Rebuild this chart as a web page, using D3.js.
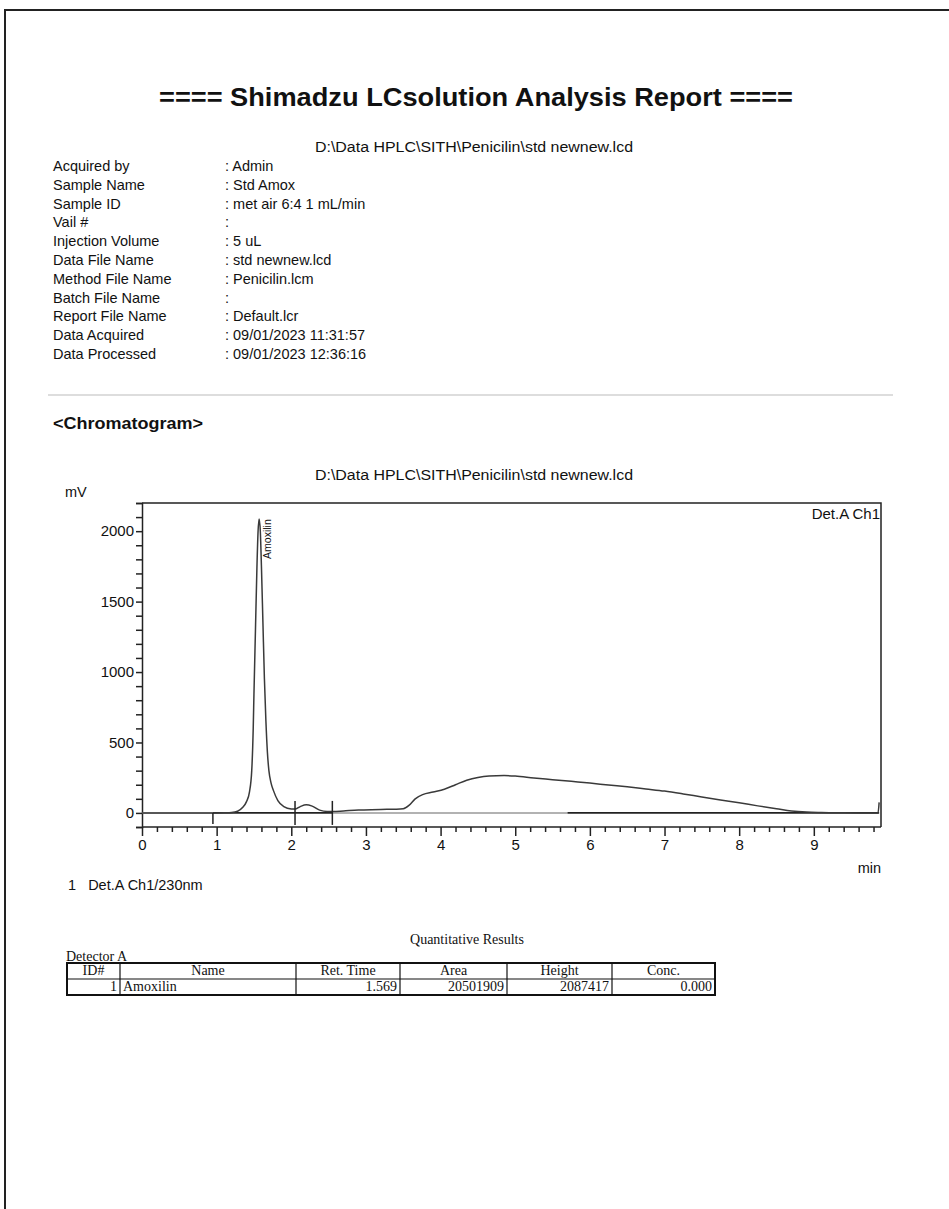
<!DOCTYPE html>
<html>
<head>
<meta charset="utf-8">
<script src="https://cdn.jsdelivr.net/npm/d3@7"></script>
<style>
  body { margin: 0; background: #fff; }
  svg text { font-family: "Liberation Sans", Arial, sans-serif; fill: #111; }
  svg text.serif { font-family: "Liberation Serif", "Times New Roman", serif; }
</style>
</head>
<body>
<div id="page"></div>
<script>
// header block
const reportTitle = "==== Shimadzu LCsolution Analysis Report ====";
const filePath = "D:\\Data HPLC\\SITH\\Penicilin\\std newnew.lcd";
const metaLabels = ["Acquired by", "Sample Name", "Sample ID", "Vail #", "Injection Volume",
    "Data File Name", "Method File Name", "Batch File Name", "Report File Name",
    "Data Acquired", "Data Processed"];
const metaValues = [": Admin", ": Std Amox", ": met air 6:4 1 mL/min", ":", ": 5 uL",
    ": std newnew.lcd", ": Penicilin.lcm", ":", ": Default.lcr",
    ": 09/01/2023 11:31:57", ": 09/01/2023 12:36:16"];

// chromatogram (min, mV)
const times = [0, 0.5, 0.9, 1.0, 1.1, 1.2, 1.28, 1.35, 1.40, 1.44, 1.47, 1.49, 1.50, 1.52, 1.54,
    1.555, 1.569, 1.585, 1.60, 1.62, 1.64, 1.66, 1.68, 1.70, 1.73, 1.76, 1.82, 1.9, 2.0, 2.05,
    2.12, 2.2, 2.28, 2.38, 2.48, 2.56, 2.7, 2.9, 3.2, 3.5, 3.58, 3.66, 3.76, 3.9, 4.05, 4.2,
    4.35, 4.5, 4.65, 4.85, 5.0, 5.25, 5.5, 5.75, 6.0, 6.25, 6.5, 6.75, 7.0, 7.25, 7.5, 7.75,
    8.0, 8.25, 8.5, 8.7, 8.9, 9.1, 9.4, 9.7, 9.86, 9.875];
const signal = [0, 0, 0, 0, 1, 3, 12, 40, 80, 150, 300, 600, 850, 1300, 1750,
    2000, 2087, 2000, 1750, 1350, 950, 650, 430, 300, 210, 160, 88, 45, 28, 27,
    45, 58, 48, 20, 10, 10, 14, 20, 24, 30, 55, 100, 130, 148, 168, 200,
    232, 252, 262, 265, 262, 248, 236, 224, 212, 198, 185, 170, 155, 135, 113, 92,
    72, 50, 30, 14, 6, 3, 1, 0, 0, 75];

// integration baseline pieces and peak marks
const baseGray = [[0, 0.95], [2.55, 5.7]];
const baseDark = [[0.95, 2.55], [5.7, 9.875]];
const startMark = 0.95;
const crossMarks = [2.05, 2.55];

const peakName = "Amoxilin";
const peakTime = 1.569;
const peakHeight = 2087;

const xTicksMinor = d3.range(0, 50).map(i => +(i * 0.2).toFixed(1));
const yTicksMajor = [0, 500, 1000, 1500, 2000];
const yTicksMinor = d3.range(-100, 2201, 100);

// quantitative results table
const tableHeaders = ["ID#", "Name", "Ret. Time", "Area", "Height", "Conc."];
const tableRow = ["1", "Amoxilin", "1.569", "20501909", "2087417", "0.000"];

const width = 949;
const height = 1209;

const svg = d3.select("#page")
    .append("svg")
    .attr("width", width)
    .attr("height", height);

svg.append("rect").attr("width", width).attr("height", height).attr("fill", "#fff");

// page border
svg.append("rect")
    .attr("x", 5).attr("y", 10)
    .attr("width", 960).attr("height", 1220)
    .attr("fill", "none")
    .attr("stroke", "#222")
    .attr("stroke-width", 2);

svg.append("text")
    .attr("x", 476).attr("y", 106)
    .attr("text-anchor", "middle")
    .attr("font-size", 25)
    .attr("font-weight", "bold")
    .attr("textLength", 634)
    .attr("lengthAdjust", "spacingAndGlyphs")
    .text(reportTitle);

svg.append("text")
    .attr("x", 474).attr("y", 152)
    .attr("text-anchor", "middle")
    .attr("font-size", 14)
    .attr("textLength", 318)
    .attr("lengthAdjust", "spacingAndGlyphs")
    .text(filePath);

const meta = svg.append("g").attr("font-size", 14.5);
meta.selectAll("text.lab")
    .data(metaLabels)
    .enter()
    .append("text")
    .attr("class", "lab")
    .attr("x", 53)
    .attr("y", (d, i) => 171 + i * 18.8)
    .text(d => d);
meta.selectAll("text.val")
    .data(metaValues)
    .enter()
    .append("text")
    .attr("class", "val")
    .attr("x", 225)
    .attr("y", (d, i) => 171 + i * 18.8)
    .text(d => d);

svg.append("line")
    .attr("x1", 48).attr("x2", 893)
    .attr("y1", 395).attr("y2", 395)
    .attr("stroke", "#ddd")
    .attr("stroke-width", 2);

svg.append("text")
    .attr("x", 53).attr("y", 429)
    .attr("font-size", 16.5)
    .attr("font-weight", "bold")
    .attr("textLength", 150)
    .attr("lengthAdjust", "spacingAndGlyphs")
    .text("<Chromatogram>");

// ---- chromatogram plot ----
const x = d3.scaleLinear().domain([0, 9.9]).range([142, 881]);
const y = d3.scaleLinear().domain([-100, 2200]).range([827, 503]);

svg.append("text")
    .attr("x", 474).attr("y", 480)
    .attr("text-anchor", "middle")
    .attr("font-size", 14)
    .attr("textLength", 318)
    .attr("lengthAdjust", "spacingAndGlyphs")
    .text(filePath);

svg.append("text")
    .attr("x", 65).attr("y", 497)
    .attr("font-size", 14.5)
    .text("mV");

// frame top and right
svg.append("path")
    .attr("d", `M${x(0)},${y(2200)}H${x(9.9)}V${y(-100)}`)
    .attr("fill", "none")
    .attr("stroke", "#222")
    .attr("stroke-width", 1.5);

const yAxis = svg.append("g")
    .attr("transform", `translate(${x(0)},0)`)
    .call(d3.axisLeft(y).tickValues(yTicksMinor).tickSize(6)
        .tickFormat(d => yTicksMajor.includes(d) ? d : ""));
yAxis.select(".domain").attr("stroke", "#222").attr("stroke-width", 1.5);
yAxis.selectAll(".tick line").attr("stroke", "#222").attr("stroke-width", 1.5);
yAxis.selectAll(".tick text")
    .attr("font-size", 15)
    .attr("fill", "#222")
    .attr("x", -8);

const xAxis = svg.append("g")
    .attr("transform", `translate(0,${y(-100)})`)
    .call(d3.axisBottom(x).tickValues(xTicksMinor).tickSizeOuter(0)
        .tickSize(5).tickFormat(d => Number.isInteger(d) ? d : ""));
xAxis.select(".domain").attr("stroke", "#222").attr("stroke-width", 1.5)
    .attr("d", `M${x(0)},0H${x(9.9)}`);
xAxis.selectAll(".tick line")
    .attr("stroke", "#222")
    .attr("stroke-width", 1.5)
    .attr("y2", d => Number.isInteger(d) ? 9 : 5);
xAxis.selectAll(".tick text")
    .attr("font-size", 15)
    .attr("fill", "#222")
    .attr("y", 12);

svg.append("text")
    .attr("x", 881).attr("y", 873)
    .attr("text-anchor", "end")
    .attr("font-size", 14.5)
    .text("min");

svg.append("text")
    .attr("x", 880).attr("y", 519)
    .attr("text-anchor", "end")
    .attr("font-size", 15)
    .text("Det.A Ch1");

// baselines
svg.selectAll("line.bgray")
    .data(baseGray)
    .enter()
    .append("line")
    .attr("x1", d => x(d[0])).attr("x2", d => x(d[1]))
    .attr("y1", y(0)).attr("y2", y(0))
    .attr("stroke", "#999")
    .attr("stroke-width", 1.5);
svg.selectAll("line.bdark")
    .data(baseDark)
    .enter()
    .append("line")
    .attr("x1", d => x(d[0])).attr("x2", d => x(d[1]))
    .attr("y1", y(0)).attr("y2", y(0))
    .attr("stroke", "#222")
    .attr("stroke-width", 1.8);

const line = d3.line()
    .x((d, i) => x(times[i]))
    .y(d => y(d))
    .curve(d3.curveMonotoneX);

svg.append("path")
    .datum(signal)
    .attr("d", line)
    .attr("fill", "none")
    .attr("stroke", "#3a3a3a")
    .attr("stroke-width", 1.5);

// peak start mark and cross marks
svg.append("line")
    .attr("x1", x(startMark)).attr("x2", x(startMark))
    .attr("y1", y(0)).attr("y2", y(0) + 11)
    .attr("stroke", "#222").attr("stroke-width", 1.5);
svg.selectAll("line.cross")
    .data(crossMarks)
    .enter()
    .append("line")
    .attr("x1", d => x(d)).attr("x2", d => x(d))
    .attr("y1", y(0) - 12).attr("y2", y(0) + 12)
    .attr("stroke", "#222").attr("stroke-width", 1.5);

svg.append("text")
    .attr("transform", `translate(${x(peakTime) + 12},${y(peakHeight) + 40}) rotate(-90)`)
    .attr("font-size", 10.5)
    .attr("fill", "#333")
    .text(peakName);

svg.append("text")
    .attr("x", 68).attr("y", 890)
    .attr("font-size", 14.5)
    .attr("xml:space", "preserve")
    .text("1   Det.A Ch1/230nm");

// ---- table ----
svg.append("text")
    .attr("class", "serif")
    .attr("x", 467).attr("y", 944)
    .attr("text-anchor", "middle")
    .attr("font-size", 14)
    .text("Quantitative Results");
svg.append("text")
    .attr("class", "serif")
    .attr("x", 66).attr("y", 961)
    .attr("font-size", 14)
    .text("Detector A");

const colEdges = [67, 120, 296, 400, 507, 612, 715];
const rowTop = 963, rowH = 16;
const tbl = svg.append("g");
tbl.append("rect")
    .attr("x", colEdges[0]).attr("y", rowTop)
    .attr("width", colEdges[6] - colEdges[0]).attr("height", rowH * 2)
    .attr("fill", "none").attr("stroke", "#111").attr("stroke-width", 2);
tbl.append("line")
    .attr("x1", colEdges[0]).attr("x2", colEdges[6])
    .attr("y1", rowTop + rowH).attr("y2", rowTop + rowH)
    .attr("stroke", "#111").attr("stroke-width", 1.2);
tbl.selectAll("line.col")
    .data(colEdges.slice(1, 6))
    .enter()
    .append("line")
    .attr("x1", d => d).attr("x2", d => d)
    .attr("y1", rowTop).attr("y2", rowTop + rowH * 2)
    .attr("stroke", "#111").attr("stroke-width", 1.2);
tbl.selectAll("text.head")
    .data(tableHeaders)
    .enter()
    .append("text")
    .attr("class", "serif")
    .attr("x", (d, i) => (colEdges[i] + colEdges[i + 1]) / 2)
    .attr("y", rowTop + 12)
    .attr("text-anchor", "middle")
    .attr("font-size", 14)
    .text(d => d);
tbl.selectAll("text.cell")
    .data(tableRow)
    .enter()
    .append("text")
    .attr("class", "serif")
    .attr("x", (d, i) => i === 1 ? colEdges[i] + 3 : colEdges[i + 1] - 3)
    .attr("y", rowTop + rowH + 12)
    .attr("text-anchor", (d, i) => i === 1 ? "start" : "end")
    .attr("font-size", 14)
    .text(d => d);
</script>
</body>
</html>
